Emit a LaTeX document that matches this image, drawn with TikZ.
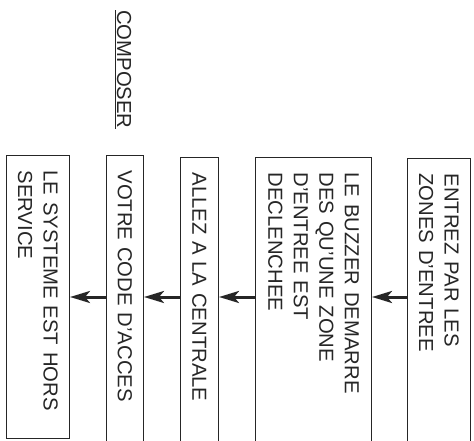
\documentclass[tikz,border=0pt]{standalone}
\usepackage{fontspec}
\setmainfont{Liberation Sans}
\usetikzlibrary{arrows.meta}
\definecolor{ink}{HTML}{262626}
\begin{document}
\begin{tikzpicture}[x=1pt,y=1pt,
  box/.style={draw=ink, line width=1.1pt, rotate=-90, anchor=north west,
    inner xsep=15pt, inner ysep=0pt, align=left, text=ink,
    font=\fontsize{20.3}{25.5}\selectfont},
  arr/.style={draw=ink, line width=3pt, -{Stealth[length=20pt,width=12pt,inset=5pt]}},
  title/.style={rotate=-90, anchor=base west, inner sep=0pt, text=ink,
    font=\fontsize{20.3}{25}\selectfont}]
\useasboundingbox (0,0) rectangle (474,-441);
\clip (0,0) rectangle (474,-441);
\node[title] (composer) at (117,-10) {\underline{COMPOSER}};
\node[box, minimum width=283pt, text width=253pt, minimum height=63pt] (b1) at (70,-155) {LE SYSTEME EST HORS\\SERVICE};
\node[box, minimum width=300pt, text width=270pt, minimum height=37pt] (b2) at (144,-155) {VOTRE CODE D'ACCES};
\node[box, minimum width=300pt, text width=270pt, minimum height=38pt] (b3) at (219,-157) {ALLEZ A LA CENTRALE};
\node[box, minimum width=300pt, text width=270pt, minimum height=116pt] (b4) at (372,-157) {LE BUZZER DEMARRE\\DES QU'UNE ZONE\\D'ENTREE EST\\DECLENCHEE};
\node[box, minimum width=300pt, text width=270pt, minimum height=63pt] (b5) at (471,-158) {ENTREZ PAR LES\\ZONES D'ENTREE};
\coordinate (lvl) at (0,-297);
\draw[arr] (b5.south |- lvl) -- (b4.north |- lvl);
\draw[arr] (b4.south |- lvl) -- (b3.north |- lvl);
\draw[arr] (b3.south |- lvl) -- (b2.north |- lvl);
\draw[arr] (b2.south |- lvl) -- (b1.north |- lvl);
\end{tikzpicture}
\end{document}
